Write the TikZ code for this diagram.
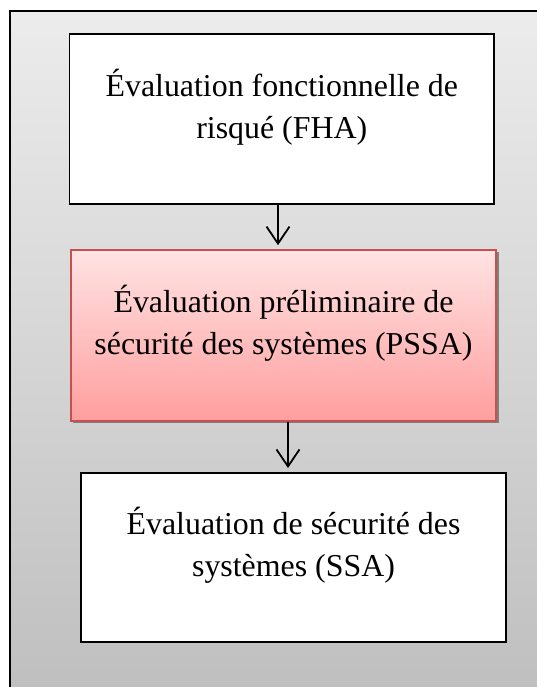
\documentclass[tikz,border=0pt]{standalone}
\usepackage{fontspec}
\setmainfont{Liberation Serif}
\usetikzlibrary{arrows.meta,shadows}
\definecolor{bgtop}{HTML}{ECECEC}
\definecolor{bgbot}{HTML}{BEBEBE}
\definecolor{pinktop}{HTML}{FFE3E3}
\definecolor{pinkbot}{HTML}{FF9E9E}
\definecolor{redline}{HTML}{C4504F}
\definecolor{shadowgray}{HTML}{808080}
\tikzset{
  whitebox/.style={draw=black, line width=1.9bp, fill=white, minimum width=425bp, minimum height=171bp, inner sep=0pt},
  pinkbox/.style={draw=redline, line width=1.6bp, top color=pinktop, bottom color=pinkbot, minimum width=425bp, minimum height=171bp, inner sep=0pt,
    drop shadow={shadow xshift=2.5bp, shadow yshift=-2.5bp, fill=shadowgray, opacity=1}},
  boxtext/.style={anchor=north, align=center, inner sep=0pt, font=\fontsize{32}{42}\selectfont},
  arrowline/.style={draw=black, line width=2bp, -{Straight Barb[length=17bp,width=23bp,line width=1.8bp]}, shorten >=4bp}
}
\begin{document}
\begin{tikzpicture}[x=1bp,y=1bp]
\useasboundingbox (0,0) rectangle (537,687);
\begin{scope}
\clip (0,0) rectangle (537,687);
\shade[top color=bgtop, bottom color=bgbot] (10,-20) rectangle (580,676);
\draw[black, line width=1.8bp] (10,-20) -- (10,676) -- (580,676);
\end{scope}
\node[whitebox, minimum width=424.5bp, minimum height=170bp] (fha) at (281.75,568) {};
\node[pinkbox] (pssa) at (283.5,351.5) {};
\node[whitebox, minimum height=169bp] (ssa) at (293.5,129.5) {};
\node[boxtext] (fhatext) at ([yshift=-36bp]fha.north) {Évaluation fonctionnelle de\\risqué (FHA)};
\node[boxtext] (pssatext) at ([yshift=-36bp]pssa.north) {Évaluation préliminaire de\\sécurité des systèmes (PSSA)};
\node[boxtext] (ssatext) at ([yshift=-35bp]ssa.north) {Évaluation de sécurité des\\systèmes (SSA)};
\coordinate (a1) at (278,0);
\coordinate (a2) at (288,0);
\draw[arrowline] (a1 |- fha.south) -- (a1 |- pssa.north);
\draw[arrowline] (a2 |- pssa.south) -- (a2 |- ssa.north);
\end{tikzpicture}
\end{document}
